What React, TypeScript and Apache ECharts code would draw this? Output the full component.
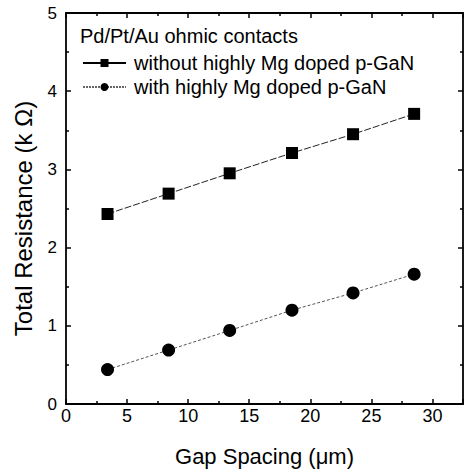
import React, { useEffect, useRef } from "react";
import * as echarts from "echarts";

const gapSpacing = [3.4, 8.4, 13.4, 18.5, 23.5, 28.5];
const withoutMg = [2.43, 2.69, 2.95, 3.21, 3.45, 3.71];
const withMg = [0.44, 0.69, 0.94, 1.2, 1.42, 1.66];
const seriesNames = ["without highly Mg doped p-GaN", "with highly Mg doped p-GaN"];
const legendTitle = "Pd/Pt/Au ohmic contacts";
const xTitle = "Gap Spacing (μm)";
const yTitle = "Total Resistance (k Ω)";

const FONT = "'Liberation Sans', Arial, sans-serif";

export default function App() {
  const ref = useRef<HTMLDivElement>(null);
  useEffect(() => {
    if (!ref.current) return;
    const chart = echarts.init(ref.current, undefined, { renderer: "svg" });
    const tickStyle = { color: "#000", width: 1.5 };
    const lineStyle = { color: "#000", width: 1.8 };
    const xCommon = {
      type: "value",
      min: 0,
      max: 32.5,
      interval: 5,
      axisLine: { show: true, onZero: false, lineStyle },
      splitLine: { show: false },
      axisTick: { inside: true, length: 5, lineStyle: tickStyle },
      minorTick: { show: true, splitNumber: 2, length: 3, lineStyle: tickStyle },
    };
    const yCommon = {
      type: "value",
      min: 0,
      max: 5,
      interval: 1,
      axisLine: { show: true, onZero: false, lineStyle },
      splitLine: { show: false },
      axisTick: { inside: true, length: 5, lineStyle: tickStyle },
      minorTick: { show: true, splitNumber: 2, length: 3, lineStyle: tickStyle },
    };
    chart.setOption({
      animation: false,
      backgroundColor: "#fff",
      textStyle: { fontFamily: FONT },
      grid: { left: 66, right: 3, top: 13, height: 395 },
      title: {
        text: legendTitle,
        left: 75,
        top: 21,
        textStyle: { fontFamily: FONT, fontSize: 20, fontWeight: "normal", color: "#000" },
      },
      legend: {
        orient: "vertical",
        left: 77,
        top: 48,
        itemWidth: 43,
        itemHeight: 10,
        itemGap: 4,
        textStyle: { fontFamily: FONT, fontSize: 20, color: "#000", padding: [0, 0, 0, 3] },
        data: [
          { name: seriesNames[0], lineStyle: { type: "solid", color: "#000" } },
          { name: seriesNames[1], lineStyle: { type: [2, 1], color: "#666" } },
        ],
      },
      xAxis: [
        {
          ...xCommon,
          position: "bottom",
          name: xTitle,
          nameLocation: "middle",
          nameGap: 41,
          nameTextStyle: { fontFamily: FONT, fontSize: 22, color: "#000" },
          axisLabel: { fontFamily: FONT, fontSize: 18, color: "#000", margin: 3, showMaxLabel: false },
        },
        {
          ...xCommon,
          position: "top",
          axisLabel: { show: false },
        },
      ],
      yAxis: [
        {
          ...yCommon,
          position: "left",
          name: yTitle,
          nameLocation: "middle",
          nameGap: 31,
          nameTextStyle: { fontFamily: FONT, fontSize: 24, color: "#000", padding: [0, 20, 0, 0] },
          axisLabel: { fontFamily: FONT, fontSize: 17, color: "#000", margin: 9 },
        },
        {
          ...yCommon,
          position: "right",
          axisLabel: { show: false },
        },
      ],
      series: [
        {
          name: seriesNames[0],
          type: "line",
          data: gapSpacing.map((x, i) => [x, withoutMg[i]]),
          symbol: "rect",
          symbolSize: 12,
          itemStyle: { color: "#000" },
          lineStyle: { color: "#222", width: 1, type: [7, 2] },
        },
        {
          name: seriesNames[1],
          type: "line",
          data: gapSpacing.map((x, i) => [x, withMg[i]]),
          symbol: "circle",
          symbolSize: 13,
          itemStyle: { color: "#000" },
          lineStyle: { color: "#555", width: 1, type: [3, 2] },
        },
      ],
    });
    return () => chart.dispose();
  }, []);
  return (
    <div
      ref={ref}
      style={{ position: "fixed", left: 0, top: 0, width: 466, height: 472 }}
    />
  );
}
